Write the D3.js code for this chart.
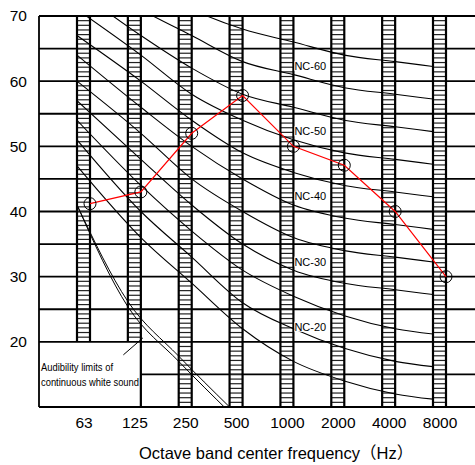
<!DOCTYPE html>
<html><head><meta charset="utf-8">
<script src="https://cdn.jsdelivr.net/npm/d3@7"></script>
<style>body{margin:0;background:#fff}svg{display:block}</style>
</head><body>
<svg id="c" width="475" height="465"></svg>
<script>
const freqs = ["63","125","250","500","1000","2000","4000","8000"];
const yTicks = [20,30,40,50,60,70];
const gridLevels = [10,15,20,25,30,35,40,45,50,55,60,65,70];
const measured = [41.2, 43, 52, 57.8, 50, 47.1, 40, 30];
const nc15 = [47,36,29,22,17,14,12,11];
const nc20 = [51,40,33,26,22,19,17,16];
const nc25 = [54,44,37,31,27,24,22,21];
const nc30 = [57,48,41,35,31,29,28,27];
const nc35 = [60,52,45,40,36,34,33,32];
const nc40 = [64,56,50,45,41,39,38,37];
const nc45 = [67,60,54,49,46,44,43,42];
const nc50 = [71,64,58,54,51,49,48,47];
const nc55 = [74,67,62,58,56,54,53,52];
const nc60 = [77,71,67,63,61,59,58,57];
const nc65 = [80,75,71,68,66,64,63,62];
const ncLabelLevels = [60,50,40,30,20];
const audibilityA = [41, 25.4, 17.0, 9.2];
const audibilityB = [41, 26.2, 17.8, 10.0];
const noteLines = ["Audibility limits of","continuous white sound"];
const xTitle = "Octave band center frequency（Hz）";

const ncCurves = [nc15,nc20,nc25,nc30,nc35,nc40,nc45,nc50,nc55,nc60,nc65];

const svg = d3.select("#c");
const L = 39, R = 475, T = 16, B = 407;
const y = d3.scaleLinear().domain([10,70]).range([B,T]);
const xc = d3.scalePoint().domain(freqs).range([83.5,439.5]);
const hw = 6.5;
const barL = f => xc(f)-hw, barR = f => xc(f)+hw;

svg.append("rect").attr("width",475).attr("height",465).attr("fill","#fff");

const defs = svg.append("defs");
defs.append("clipPath").attr("id","cc").append("rect")
  .attr("x", barL("63")).attr("y", T).attr("width", barL("8000")-barL("63")).attr("height", B-T);
defs.append("clipPath").attr("id","ca").append("rect")
  .attr("x",L).attr("y",T).attr("width",R-L).attr("height",B-T);

// horizontal grid
const boxRight = barR("125");
svg.append("g").selectAll("line").data(gridLevels).join("line")
  .attr("x1", d => d===15 ? boxRight : L).attr("x2", R)
  .attr("y1", d=>y(d)).attr("y2", d=>y(d))
  .attr("stroke","#000").attr("stroke-width",1.8);

svg.append("line").attr("x1",L).attr("x2",L).attr("y1",T).attr("y2",B).attr("stroke","#000").attr("stroke-width",1.8);

// hatched bars
const hatchStep = (y(0)-y(5))/7;
freqs.forEach((f,i)=>{
  const bottom = (i<2) ? y(20) : B;
  const g = svg.append("g");
  const hs = d3.range(T+hatchStep, bottom-0.5, hatchStep);
  g.selectAll("line.h").data(hs).join("line").attr("class","h")
    .attr("x1",barL(f)).attr("x2",barR(f)).attr("y1",d=>d).attr("y2",d=>d)
    .attr("stroke","#222").attr("stroke-width",1.2);
  g.append("line").attr("x1",barL(f)).attr("x2",barL(f)).attr("y1",T).attr("y2",bottom).attr("stroke","#000").attr("stroke-width",2.2);
  g.append("line").attr("x1",barR(f)).attr("x2",barR(f)).attr("y1",T).attr("y2",(i===1)?B:bottom).attr("stroke","#000").attr("stroke-width",2.2);
});

// NC curves
const curveX = i => i===0 ? barL(freqs[0]) : barR(freqs[i]);
const line = d3.line().x((d,i)=>curveX(i)).y(d=>y(d)).curve(d3.curveMonotoneX);
svg.append("g").attr("clip-path","url(#cc)").selectAll("path").data(ncCurves).join("path")
  .attr("d", line).attr("fill","none").attr("stroke","#000").attr("stroke-width",1.1);

// audibility curves
const lineA = d3.line().x((d,i)=>barL(freqs[i])).y(d=>y(d)).curve(d3.curveMonotoneX);
svg.append("g").attr("clip-path","url(#ca)").selectAll("path").data([audibilityA,audibilityB]).join("path")
  .attr("d", lineA).attr("fill","none").attr("stroke","#000").attr("stroke-width",1);

// NC labels
const lab = svg.append("g");
ncLabelLevels.forEach(l=>{
  const tx = barR("1000")+1, ty = y(l+1.7);
  const t = lab.append("text").attr("x",tx).attr("y",ty)
    .attr("font-family","Liberation Sans, Arial, sans-serif").attr("font-size",11).attr("fill","#000")
    .text("NC-"+l);
  const bb = t.node().getBBox();
  lab.insert("rect","text").attr("x",bb.x).attr("y",bb.y+1).attr("width",bb.width).attr("height",bb.height-2).attr("fill","#fff");
});

// measured line
const mline = d3.line().x((d,i)=>barR(freqs[i])).y(d=>y(d));
svg.append("path").datum(measured).attr("d",mline).attr("fill","none").attr("stroke","#ff0000").attr("stroke-width",1.2);
svg.append("g").selectAll("circle").data(measured).join("circle")
  .attr("cx",(d,i)=>barR(freqs[i])).attr("cy",d=>y(d)).attr("r",6)
  .attr("fill","none").attr("stroke","#000").attr("stroke-width",1);

// annotation box text
const nt = svg.append("g").attr("font-family","Liberation Sans Narrow, Arial Narrow, sans-serif").attr("font-size",11.5).attr("fill","#000");
nt.append("text").attr("x",L+2).attr("y",y(20)+29).attr("textLength",72).attr("lengthAdjust","spacingAndGlyphs").text(noteLines[0]);
nt.append("text").attr("x",L+2).attr("y",y(20)+44).attr("textLength",98).attr("lengthAdjust","spacingAndGlyphs").text(noteLines[1]);
svg.append("line").attr("x1",xc("125")-11).attr("y1",y(18)).attr("x2",barR("125")+2).attr("y2",y(20.6))
  .attr("stroke","#000").attr("stroke-width",1);

// axes labels
const ya = svg.append("g").attr("transform",`translate(${L-12},0)`)
  .call(d3.axisLeft(y).tickValues(yTicks).tickSize(0).tickPadding(0));
ya.select(".domain").remove();
ya.selectAll("text").attr("font-family","Liberation Sans, Arial, sans-serif").attr("font-size",15.5).attr("fill","#000");

const xa = svg.append("g").attr("transform",`translate(0,${B})`)
  .call(d3.axisBottom(xc).tickSize(0).tickPadding(10));
xa.select(".domain").remove();
xa.selectAll("text").attr("font-family","Liberation Sans, Arial, sans-serif").attr("font-size",15.5).attr("fill","#000");

svg.append("text").attr("x",139).attr("y",459)
  .attr("font-family","Liberation Sans, Arial, 'Noto Sans CJK JP', sans-serif").attr("font-size",16.5).attr("fill","#000")
  .text(xTitle);
</script>
</body></html>
